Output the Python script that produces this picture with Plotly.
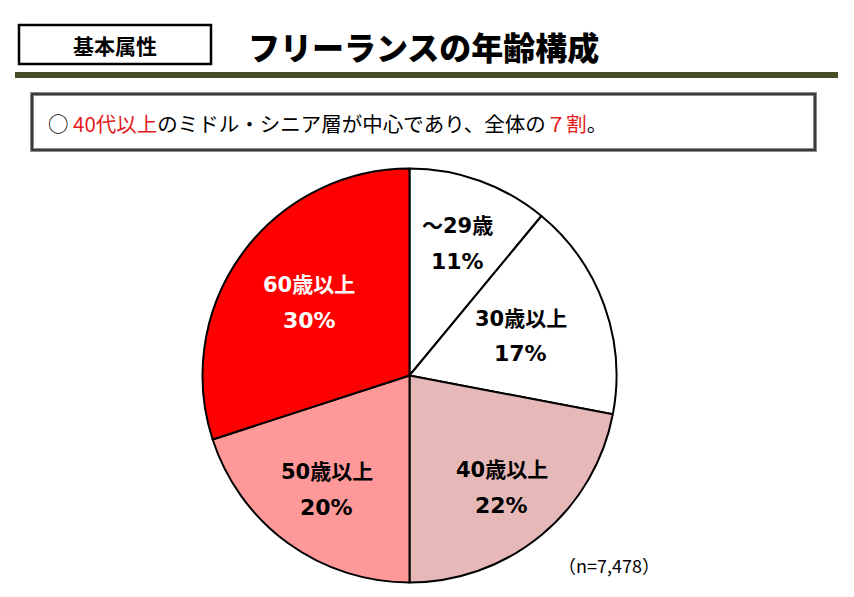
import math
import plotly.graph_objects as go

# ---- data ----
age_labels = ["～29歳", "30歳以上", "40歳以上", "50歳以上", "60歳以上"]
age_shares = [11, 17, 22, 20, 30]
sample_note = "（n=7,478）"
section_tag = "基本属性"
title_text = "フリーランスの年齢構成"

# ---- style ----
slice_colors = ["#FFFFFF", "#FFFFFF", "#E6B9B8", "#FF9999", "#FF0000"]
text_colors = ["#000000", "#000000", "#000000", "#000000", "#FFFFFF"]
label_radius = [0.68, 0.57, 0.70, 0.68, 0.60]

OFF = 8  # page body margin
W, H = 854 - 2 * OFF, 597 - 2 * OFF
CX, CY, R = 409.5, 375.5, 207.0


def px(x):
    return (x - OFF) / W


def py(y):
    return 1 - (y - OFF) / H


fig = go.Figure()
fig.add_trace(go.Pie(
    labels=age_labels,
    values=age_shares,
    sort=False,
    direction="clockwise",
    rotation=0,
    marker=dict(colors=slice_colors, line=dict(color="#000000", width=2)),
    textinfo="none",
    hoverinfo="label+value",
    showlegend=False,
    domain=dict(x=[px(CX - R), px(CX + R)], y=[py(CY + R), py(CY - R)]),
))

cjk = "DejaVu Sans, Noto Sans CJK JP"


def ann(x, y, text, size, color="#000", family="Noto Sans CJK JP", xanchor="center", weight=None):
    font = dict(family=family, size=size, color=color)
    if weight:
        font["weight"] = weight
    return dict(x=px(x), y=py(y), xref="paper", yref="paper", text=text,
                showarrow=False, xanchor=xanchor, yanchor="middle", font=font)


annotations = []
total = sum(age_shares)
cum = 0
for lab, v, tc, rf in zip(age_labels, age_shares, text_colors, label_radius):
    theta = 2 * math.pi * (cum + v / 2) / total
    cum += v
    lx = CX + rf * R * math.sin(theta)
    ly = CY - rf * R * math.cos(theta)
    annotations.append(ann(lx, ly - 17, lab, 21, tc, cjk, weight="bold"))
    annotations.append(ann(lx, ly + 18, f"{v}%", 22, tc, cjk, weight="bold"))

# header texts
annotations.append(ann(115, 45, section_tag, 21, weight="bold"))
annotations.append(ann(423, 46, title_text, 32, weight=900))
annotations.append(ann(46, 123,
                       "○ <span style='color:#E31B1B'>40代以上</span>のミドル・シニア層が中心であり、全体の<span style='color:#E31B1B'>７割</span>。",
                       20.5, xanchor="left"))
annotations.append(ann(609, 565, sample_note, 18))


def rect(x0, y0, x1, y1, **kw):
    return dict(type="rect", xref="paper", yref="paper",
                x0=px(x0), x1=px(x1), y0=py(y1), y1=py(y0), **kw)


shapes = [
    rect(19, 25, 211, 64, line=dict(color="#000", width=2.5), fillcolor="rgba(0,0,0,0)"),
    rect(15, 72, 838, 78, line=dict(width=0), fillcolor="#454E26"),
    rect(32, 94, 815, 150, line=dict(color="#8A8A8A", width=4), fillcolor="#FFFFFF"),
    rect(32, 94, 815, 150, line=dict(color="#222", width=1.5), fillcolor="rgba(0,0,0,0)"),
]

fig.update_layout(
    width=W, height=H,
    margin=dict(l=0, r=0, t=0, b=0),
    paper_bgcolor="#FFFFFF", plot_bgcolor="#FFFFFF",
    annotations=annotations, shapes=shapes,
)
fig.write_html("out.html")
